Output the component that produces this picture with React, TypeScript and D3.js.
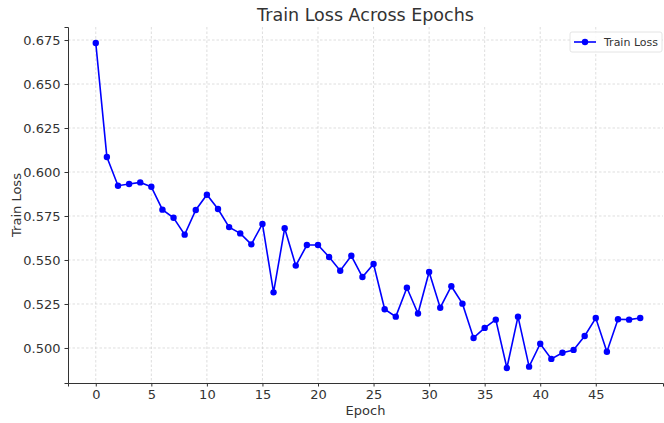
import * as d3 from "d3";
import { useRef, useEffect } from "react";

const epochs = d3.range(0, 50);
const trainLoss = [
  0.6733, 0.6085, 0.5922, 0.5932, 0.5941, 0.5916, 0.5786, 0.574, 0.5644, 0.5784,
  0.5871, 0.579, 0.5687, 0.5651, 0.5589, 0.5705, 0.5316, 0.568, 0.5468, 0.5585,
  0.5585, 0.5517, 0.5439, 0.5524, 0.5403, 0.5477, 0.522, 0.5178, 0.5342, 0.5196,
  0.5432, 0.5229, 0.5351, 0.5252, 0.5057, 0.5114, 0.5161, 0.4886, 0.5178, 0.4894,
  0.5024, 0.4938, 0.4973, 0.4989, 0.5068, 0.517, 0.4979, 0.5163, 0.5161, 0.517,
];
const xTicks = [0, 5, 10, 15, 20, 25, 30, 35, 40, 45];
const yTicks = [0.5, 0.525, 0.55, 0.575, 0.6, 0.625, 0.65, 0.675];

const width = 664;
const height = 423;
const margin = { top: 27, right: 1, bottom: 40, left: 68 };
const font = "DejaVu Sans, sans-serif";
const textColor = "#333";

export default function App() {
  const xAxisRef = useRef<SVGGElement>(null);
  const yAxisRef = useRef<SVGGElement>(null);

  const x = d3.scaleLinear().domain([-2.5, 51.05]).range([margin.left, width - margin.right]);
  const y = d3.scaleLinear().domain([0.4801, 0.6824]).range([height - margin.bottom, margin.top]);

  const line = d3
    .line<number>()
    .x((_, i) => x(epochs[i]))
    .y((d) => y(d));

  useEffect(() => {
    const xa = d3.select(xAxisRef.current!);
    xa.call(d3.axisBottom(x).tickValues(xTicks).tickSizeOuter(0).tickSize(3.5).tickPadding(3.5));
    const ya = d3.select(yAxisRef.current!);
    ya.call(d3.axisLeft(y).tickValues(yTicks).tickFormat(d3.format(".3f")).tickSizeOuter(0).tickSize(3.5).tickPadding(4));
    [xa, ya].forEach((a) => {
      a.selectAll("text").attr("font-family", font).attr("font-size", 13).attr("fill", textColor);
      a.selectAll("line").attr("stroke", textColor);
      a.select(".domain").attr("stroke", textColor).attr("stroke-width", 1);
    });
  }, []);

  return (
    <svg width={width} height={height} style={{ position: "absolute", left: 0, top: 0, background: "#fff" }}>
      <g>
        {xTicks.map((t) => (
          <line key={"gx" + t} x1={x(t)} x2={x(t)} y1={margin.top} y2={height - margin.bottom}
            stroke="#d0d0d0" strokeWidth={0.7} strokeDasharray="2.5,2" />
        ))}
        {yTicks.map((t) => (
          <line key={"gy" + t} x1={margin.left} x2={width - margin.right} y1={y(t)} y2={y(t)}
            stroke="#d0d0d0" strokeWidth={0.7} strokeDasharray="2.5,2" />
        ))}
      </g>
      <path d={line(trainLoss)!} fill="none" stroke="#0000ff" strokeWidth={1.6} />
      {trainLoss.map((d, i) => (
        <circle key={i} cx={x(epochs[i])} cy={y(d)} r={3.2} fill="#0000ff" />
      ))}
      <g ref={xAxisRef} transform={`translate(0,${height - margin.bottom})`} />
      <g ref={yAxisRef} transform={`translate(${margin.left},0)`} />
      <text x={(margin.left + width - margin.right) / 2} y={21} textAnchor="middle"
        fontFamily={font} fontSize={17.5} fill={textColor}>Train Loss Across Epochs</text>
      <text x={(margin.left + width - margin.right) / 2} y={415} textAnchor="middle"
        fontFamily={font} fontSize={13} fill={textColor}>Epoch</text>
      <text transform={`translate(21,${(margin.top + height - margin.bottom) / 2}) rotate(-90)`} textAnchor="middle"
        fontFamily={font} fontSize={13} fill={textColor}>Train Loss</text>
      <g transform="translate(570,32)">
        <rect x={0} y={0} width={92} height={20} rx={2} fill="#fff" fillOpacity={0.85} stroke="#ddd" strokeWidth={0.8} />
        <line x1={4} x2={26} y1={10} y2={10} stroke="#0000ff" strokeWidth={1.6} />
        <circle cx={15} cy={10} r={3.2} fill="#0000ff" />
        <text x={34} y={14} fontFamily={font} fontSize={11} fill={textColor}>Train Loss</text>
      </g>
    </svg>
  );
}
